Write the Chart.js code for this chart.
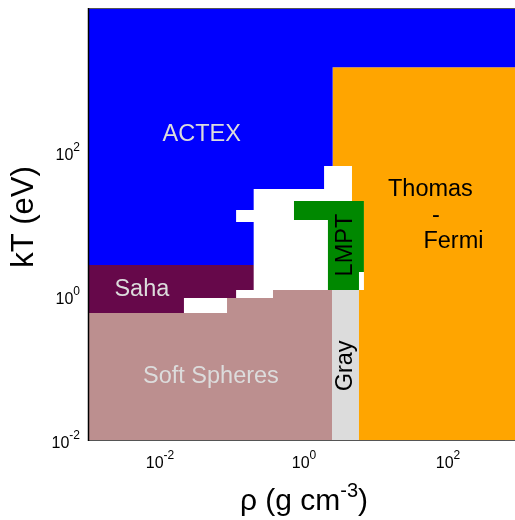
<!DOCTYPE html>
<html>
<head>
<meta charset="utf-8">
<script src="https://cdn.jsdelivr.net/npm/chart.js@4.4.1/dist/chart.umd.min.js"></script>
<style>
  html, body { margin: 0; padding: 0; background: #fff; overflow: hidden; }
  #wrap { width: 520px; height: 520px; }
</style>
</head>
<body>
<div id="wrap"><canvas id="c" width="520" height="520"></canvas></div>
<script>
// ── region outlines, [rho (g/cm3), kT (eV)] ─────────────────────
const ACTEX = [[0.001, 1e4], [1000, 1e4], [1000, 1500], [2.5, 1500], [2.5, 64], [1.9, 64], [1.9, 30.6],
  [0.2, 30.6], [0.2, 15.6], [0.114, 15.6], [0.114, 10.7], [0.2, 10.7], [0.2, 2.7], [0.001, 2.7]];
const THOMAS_FERMI = [[2.5, 1500], [1000, 1500], [1000, 0.01], [5.8, 0.01], [5.8, 1.21], [6.8, 1.21],
  [6.8, 20.9], [4.64, 20.9], [4.64, 64], [2.5, 64]];
const LMPT = [[0.726, 20.9], [6.8, 20.9], [6.8, 2.15], [5.8, 2.15], [5.8, 1.21], [2.15, 1.21], [2.15, 11.4], [0.726, 11.4]];
const GRAY = [[2.45, 1.21], [5.8, 1.21], [5.8, 0.01], [2.45, 0.01]];
const SAHA = [[0.001, 2.7], [0.2, 2.7], [0.2, 1.21], [0.114, 1.21], [0.114, 0.938], [0.0215, 0.938],
  [0.0215, 0.581], [0.001, 0.581]];
const SOFT_SPHERES = [[0.001, 0.581], [0.0853, 0.581], [0.0853, 0.938], [0.371, 0.938], [0.371, 1.21],
  [2.45, 1.21], [2.45, 0.01], [0.001, 0.01]];

const REGIONS = [ACTEX, THOMAS_FERMI, LMPT, GRAY, SAHA, SOFT_SPHERES];
const REGION_NAMES = ["ACTEX", "Thomas-Fermi", "LMPT", "Gray", "Saha", "Soft Spheres"];
const REGION_COLORS = ["#0000ff", "#ffa500", "#008800", "#dcdcdc", "#66084a", "#bc8f8f"];

const TICK_EXPONENTS = [-2, 0, 2];

// text labels: [text, rho, kT, colour, rotated]
const LABELS = [
  ["ACTEX", 0.038, 175, "#dcdcdc", false],
  ["Saha", 0.0056, 1.23, "#dcdcdc", false],
  ["Soft Spheres", 0.051, 0.075, "#dcdcdc", false],
  ["Thomas", 57, 29.7, "#000", false],
  ["-", 68, 13.3, "#000", false],
  ["Fermi", 119, 5.7, "#000", false],
  ["LMPT", 3.77, 5.1, "#000", true],
  ["Gray", 3.77, 0.107, "#000", true],
];

const FONT = '"Liberation Sans", Arial, Helvetica, sans-serif';

// ── labels, axis frame and ticks drawn on top ─────────────────
const decor = {
  id: "decor",
  afterDraw(chart) {
    const { ctx, chartArea: a, scales: { x, y } } = chart;
    ctx.save();
    // region labels
    ctx.font = `23.5px ${FONT}`;
    ctx.textAlign = "center"; ctx.textBaseline = "middle";
    LABELS.forEach(([t, r, k, col, rot]) => {
      const px = x.getPixelForValue(r), py = y.getPixelForValue(k);
      ctx.fillStyle = col;
      ctx.save();
      ctx.translate(px, py);
      if (rot) ctx.rotate(-Math.PI / 2);
      ctx.fillText(t, 0, 0);
      ctx.restore();
    });
    // frame
    ctx.lineWidth = 1;
    ctx.strokeStyle = "#555";
    ctx.beginPath();
    ctx.moveTo(a.left, a.top + 0.5); ctx.lineTo(a.right, a.top + 0.5);
    ctx.moveTo(a.left, a.bottom + 0.5); ctx.lineTo(a.right, a.bottom + 0.5);
    ctx.stroke();
    ctx.strokeStyle = "#000"; ctx.lineWidth = 1.5;
    ctx.beginPath();
    ctx.moveTo(a.left + 0.5, a.top); ctx.lineTo(a.left + 0.5, a.bottom + 1);
    ctx.stroke();
    // tick labels with superscripts
    ctx.fillStyle = "#000";
    ctx.textAlign = "left"; ctx.textBaseline = "alphabetic";
    const base = `16px ${FONT}`, sup = `12px ${FONT}`;
    TICK_EXPONENTS.forEach(e => {
      ctx.font = base; const w1 = ctx.measureText("10").width;
      ctx.font = sup; const w2 = ctx.measureText(String(e)).width;
      const px = x.getPixelForValue(Math.pow(10, e));
      const x0 = px - (w1 + w2) / 2;
      ctx.font = base; ctx.fillText("10", x0, a.bottom + 28);
      ctx.font = sup; ctx.fillText(String(e), x0 + w1, a.bottom + 19);
      const py = y.getPixelForValue(Math.pow(10, e));
      const y0 = 80 - (w1 + w2);
      ctx.font = base; ctx.fillText("10", y0, py + 8);
      ctx.font = sup; ctx.fillText(String(e), y0 + w1, py - 1);
    });
    // x title: ρ (g cm^-3)
    const big = `30px ${FONT}`, bigSup = `20px ${FONT}`;
    ctx.font = big; const p1 = ctx.measureText("ρ (g cm").width, p3 = ctx.measureText(")").width;
    ctx.font = bigSup; const p2 = ctx.measureText("-3").width;
    const cx = (a.left + a.right) / 2, tx = cx - (p1 + p2 + p3) / 2;
    ctx.font = big; ctx.fillText("ρ (g cm", tx, 510);
    ctx.font = bigSup; ctx.fillText("-3", tx + p1, 497);
    ctx.font = big; ctx.fillText(")", tx + p1 + p2, 510);
    // y title
    ctx.save();
    ctx.translate(24, 217);
    ctx.rotate(-Math.PI / 2);
    ctx.font = `31px ${FONT}`; ctx.textAlign = "center"; ctx.textBaseline = "middle";
    ctx.fillText("kT (eV)", 0, 0);
    ctx.restore();
    ctx.restore();
  },
};

new Chart(document.getElementById("c"), {
  type: "scatter",
  data: {
    datasets: REGIONS.map((pts, i) => ({
      label: REGION_NAMES[i],
      data: pts.map(([r, k]) => ({ x: r, y: k })),
      showLine: true, fill: "shape", tension: 0,
      backgroundColor: REGION_COLORS[i], borderColor: "transparent", borderWidth: 0, pointRadius: 0,
    })),
  },
  options: {
    responsive: false, animation: false,
    layout: { padding: { left: 88, top: 8, right: 0, bottom: 80 } },
    plugins: { legend: { display: false }, tooltip: { enabled: false } },
    scales: {
      x: { type: "logarithmic", min: 1e-3, max: 1e3, display: false },
      y: { type: "logarithmic", min: 1e-2, max: 1e4, display: false },
    },
  },
  plugins: [decor],
});
</script>
</body>
</html>
